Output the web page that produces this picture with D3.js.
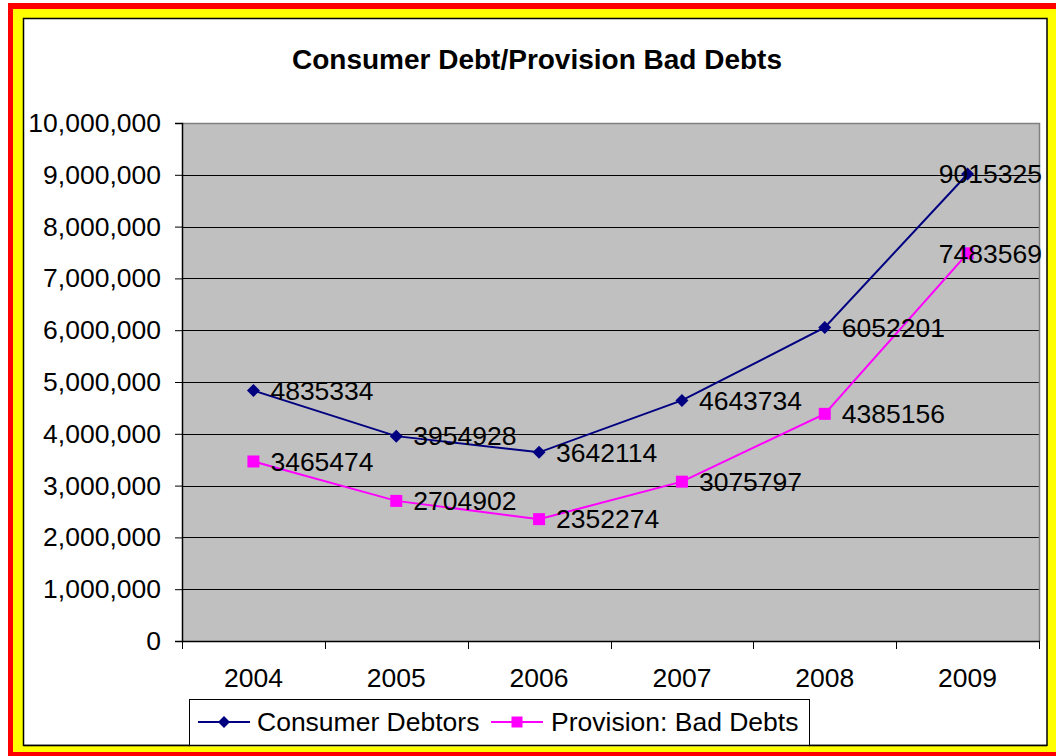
<!DOCTYPE html>
<html>
<head>
<meta charset="utf-8">
<script src="https://cdn.jsdelivr.net/npm/d3@7"></script>
<style>
  html, body { margin: 0; padding: 0; background: #ffffff; }
  svg { display: block; }
  text { font-family: "Liberation Sans", Arial, sans-serif; fill: #000; }
</style>
</head>
<body>
<svg id="chart" width="1056" height="756"></svg>
<script>
// Chart data
const years = ["2004", "2005", "2006", "2007", "2008", "2009"];
const consumerDebtors = [4835334, 3954928, 3642114, 4643734, 6052201, 9015325];
const provisionBadDebts = [3465474, 2704902, 2352274, 3075797, 4385156, 7483569];
const seriesNames = ["Consumer Debtors", "Provision: Bad Debts"];
const yTicks = [0, 1000000, 2000000, 3000000, 4000000, 5000000, 6000000, 7000000, 8000000, 9000000, 10000000];
const titleText = "Consumer Debt/Provision Bad Debts";

const svg = d3.select("#chart");
const fontSize = "26.5px";

// Decorative frame: red outer band, yellow inner band, white chart area
svg.append("rect").attr("x", 8).attr("y", 3).attr("width", 1100).attr("height", 760).attr("fill", "#ff0000");
svg.append("rect").attr("x", 13).attr("y", 9).attr("width", 1100).attr("height", 743).attr("fill", "#ffff00");
svg.append("rect").attr("x", 23.5).attr("y", 18.5).attr("width", 1023.5).attr("height", 727)
  .attr("fill", "#ffffff").attr("stroke", "#000").attr("stroke-width", 1.5);

// Plot area geometry
const plot = { left: 182, top: 123, right: 1039, bottom: 641 };

const x = d3.scaleBand().domain(years).range([plot.left, plot.right]).padding(0);
const y = d3.scaleLinear().domain([0, 10000000]).range([plot.bottom, plot.top]);

// Title
svg.append("text")
  .attr("x", 537).attr("y", 69)
  .attr("text-anchor", "middle")
  .style("font-size", "27px").style("font-weight", "bold")
  .attr("textLength", 490).attr("lengthAdjust", "spacingAndGlyphs")
  .text(titleText);

// Plot background
svg.append("rect")
  .attr("x", plot.left).attr("y", plot.top)
  .attr("width", plot.right - plot.left).attr("height", plot.bottom - plot.top)
  .attr("fill", "#c0c0c0");

// Horizontal gridlines
svg.append("g").selectAll("line")
  .data(yTicks.filter(v => v > 0 && v < 10000000))
  .join("line")
  .attr("x1", plot.left).attr("x2", plot.right)
  .attr("y1", d => Math.round(y(d)) + 0.5).attr("y2", d => Math.round(y(d)) + 0.5)
  .attr("stroke", "#000").attr("stroke-width", 1);

// Plot border (top and right in grey)
svg.append("path")
  .attr("d", `M${plot.left},${plot.top + 0.5}H${plot.right + 0.5}V${plot.bottom}`)
  .attr("fill", "none").attr("stroke", "#808080").attr("stroke-width", 1.5);

// Y axis
const yAxis = d3.axisLeft(y)
  .tickValues(yTicks)
  .tickSize(7)
  .tickPadding(14)
  .tickFormat(d3.format(","));
const gy = svg.append("g").attr("transform", `translate(${plot.left},0)`).call(yAxis);
gy.select(".domain").attr("stroke", "#000").attr("stroke-width", 1.5);
gy.selectAll(".tick line").attr("stroke", "#000");
gy.selectAll(".tick text")
  .style("font-size", fontSize)
  .style("font-family", '"Liberation Sans", Arial, sans-serif')
  .attr("fill", "#000");

// X axis: ticks on category boundaries
const xAxisLine = svg.append("g");
xAxisLine.append("line")
  .attr("x1", plot.left).attr("x2", plot.right + 1)
  .attr("y1", plot.bottom + 0.5).attr("y2", plot.bottom + 0.5)
  .attr("stroke", "#000").attr("stroke-width", 1.5);
const boundaries = years.map(d => x(d)).concat([x(years[years.length - 1]) + x.bandwidth()]);
xAxisLine.selectAll("line.tick")
  .data(boundaries)
  .join("line")
  .attr("class", "tick")
  .attr("x1", d => Math.round(d) + 0.5).attr("x2", d => Math.round(d) + 0.5)
  .attr("y1", plot.bottom).attr("y2", plot.bottom + 8)
  .attr("stroke", "#000").attr("stroke-width", 1);
xAxisLine.selectAll("text")
  .data(years)
  .join("text")
  .attr("x", d => x(d) + x.bandwidth() / 2)
  .attr("y", 687)
  .attr("text-anchor", "middle")
  .style("font-size", fontSize)
  .text(d => d);

// Series lines, markers and value labels
const series = [
  { name: seriesNames[0], values: consumerDebtors, color: "#000080", marker: "diamond" },
  { name: seriesNames[1], values: provisionBadDebts, color: "#ff00ff", marker: "square" }
];
const cx = d => x(d) + x.bandwidth() / 2;
const line = d3.line().x(d => cx(d.year)).y(d => y(d.value));

function drawMarker(g, type, color, size) {
  if (type === "diamond") {
    const h = size / 2;
    g.append("path").attr("d", `M0,${-h}L${h},0L0,${h}L${-h},0Z`).attr("fill", color);
  } else {
    g.append("rect").attr("x", -size / 2).attr("y", -size / 2)
      .attr("width", size).attr("height", size).attr("fill", color);
  }
}

series.forEach(s => {
  const pts = years.map((yr, i) => ({ year: yr, value: s.values[i] }));
  svg.append("path").datum(pts)
    .attr("d", line)
    .attr("fill", "none").attr("stroke", s.color).attr("stroke-width", 2);
  pts.forEach(p => {
    const g = svg.append("g").attr("transform", `translate(${cx(p.year)},${y(p.value)})`);
    drawMarker(g, s.marker, s.color, s.marker === "diamond" ? 13 : 12);
  });
});

// Value labels drawn on top; kept inside the chart's right edge
series.forEach(s => {
  years.forEach((yr, i) => {
    const v = s.values[i];
    const t = svg.append("text")
      .attr("y", y(v))
      .attr("dy", "0.35em")
      .style("font-size", fontSize)
      .text(String(v));
    const w = t.node().getComputedTextLength();
    const lx = Math.min(cx(yr) + 17, 1042 - w);
    t.attr("x", lx);
  });
});

// Legend
const legend = svg.append("g");
legend.append("rect")
  .attr("x", 189.5).attr("y", 699.5).attr("width", 620).attr("height", 60)
  .attr("fill", "#ffffff").attr("stroke", "#000").attr("stroke-width", 1);
const legendItems = [
  { s: series[0], lx: 198, tx: 257 },
  { s: series[1], lx: 491, tx: 551 }
];
legendItems.forEach(it => {
  legend.append("line")
    .attr("x1", it.lx).attr("x2", it.lx + 52)
    .attr("y1", 722).attr("y2", 722)
    .attr("stroke", it.s.color).attr("stroke-width", 2);
  const g = legend.append("g").attr("transform", `translate(${it.lx + 26},722)`);
  drawMarker(g, it.s.marker, it.s.color, it.s.marker === "diamond" ? 12 : 11);
  legend.append("text")
    .attr("x", it.tx).attr("y", 731)
    .style("font-size", fontSize)
    .text(it.s.name);
});

// Re-draw the chart area's bottom border and the frame over the legend box
svg.append("rect").attr("x", 13).attr("y", 746.25).attr("width", 1100).attr("height", 6).attr("fill", "#ffff00");
svg.append("rect").attr("x", 8).attr("y", 752).attr("width", 1100).attr("height", 10).attr("fill", "#ff0000");
svg.append("line").attr("x1", 23.5).attr("x2", 1047).attr("y1", 745.5).attr("y2", 745.5)
  .attr("stroke", "#000").attr("stroke-width", 1.5);
</script>
</body>
</html>
